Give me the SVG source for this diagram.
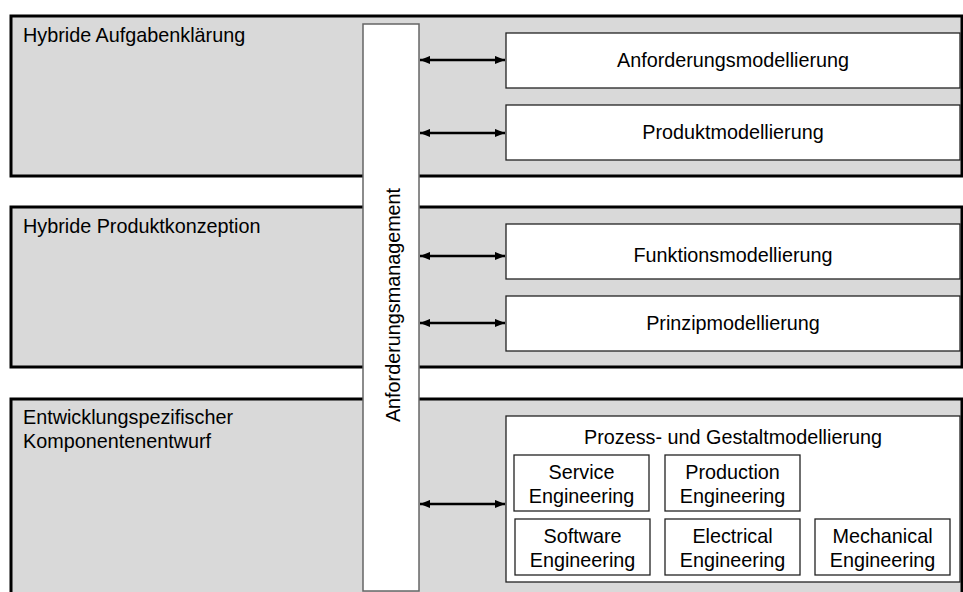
<svg xmlns="http://www.w3.org/2000/svg" width="963" height="592" viewBox="0 0 963 592">
<style>
text{font-family:"Liberation Sans",Arial,sans-serif;font-size:19.8px;fill:#000}
.band{fill:#d9d9d9;stroke:#000;stroke-width:3}
.box{fill:#fff;stroke:#222;stroke-width:1.3}
.bar{fill:#fff;stroke:#666;stroke-width:1.5}
.c{text-anchor:middle}
.arr{stroke:#000;stroke-width:2.5;fill:none;marker-start:url(#ah);marker-end:url(#ah)}
</style>
<defs>
<marker id="ah" viewBox="0 0 10 10" refX="10" refY="5" markerWidth="10" markerHeight="9" markerUnits="userSpaceOnUse" orient="auto-start-reverse" preserveAspectRatio="none">
<path d="M0,0.5 L10,5 L0,9.5 z" fill="#000"/>
</marker>
</defs>
<g id="band1"><rect class="band" x="11" y="16" width="951" height="160"/><text x="23" y="42">Hybride Aufgabenklärung</text></g>
<g id="band2"><rect class="band" x="11" y="207" width="951" height="160"/><text x="23" y="233">Hybride Produktkonzeption</text></g>
<g id="band3"><rect class="band" x="11" y="399" width="951" height="210"/><text x="23" y="424">Entwicklungspezifischer</text><text x="23" y="448">Komponentenentwurf</text></g>
<g id="anforderungsmanagement"><rect class="bar" x="363" y="24" width="56" height="567"/><text class="c" transform="translate(400,305) rotate(-90)">Anforderungsmanagement</text></g>
<g id="anforderungsmodellierung"><rect class="box" x="506" y="33" width="454" height="55"/><text class="c" x="733" y="67">Anforderungsmodellierung</text></g>
<g id="produktmodellierung"><rect class="box" x="506" y="105" width="454" height="55"/><text class="c" x="733" y="139">Produktmodellierung</text></g>
<g id="funktionsmodellierung"><rect class="box" x="506" y="224" width="454" height="55"/><text class="c" x="733" y="262">Funktionsmodellierung</text></g>
<g id="prinzipmodellierung"><rect class="box" x="506" y="296" width="454" height="55"/><text class="c" x="733" y="330">Prinzipmodellierung</text></g>
<g id="prozess"><rect class="box" x="506" y="416" width="454" height="166"/><text class="c" x="733" y="444">Prozess- und Gestaltmodellierung</text></g>
<g id="service"><rect class="box" x="514" y="455" width="135" height="56"/><text class="c" x="581.5" y="479">Service</text><text class="c" x="581.5" y="503">Engineering</text></g>
<g id="production"><rect class="box" x="665" y="455" width="135" height="56"/><text class="c" x="732.5" y="479">Production</text><text class="c" x="732.5" y="503">Engineering</text></g>
<g id="software"><rect class="box" x="515" y="519" width="135" height="56"/><text class="c" x="582.5" y="543">Software</text><text class="c" x="582.5" y="567">Engineering</text></g>
<g id="electrical"><rect class="box" x="665" y="519" width="135" height="56"/><text class="c" x="732.5" y="543">Electrical</text><text class="c" x="732.5" y="567">Engineering</text></g>
<g id="mechanical"><rect class="box" x="815" y="519" width="135" height="56"/><text class="c" x="882.5" y="543">Mechanical</text><text class="c" x="882.5" y="567">Engineering</text></g>
<g id="connectors">
<line class="arr" x1="420" y1="60" x2="505" y2="60"/>
<line class="arr" x1="420" y1="133" x2="505" y2="133"/>
<line class="arr" x1="420" y1="256" x2="505" y2="256"/>
<line class="arr" x1="420" y1="323" x2="505" y2="323"/>
<line class="arr" x1="420" y1="504" x2="505" y2="504"/>
</g>
</svg>
